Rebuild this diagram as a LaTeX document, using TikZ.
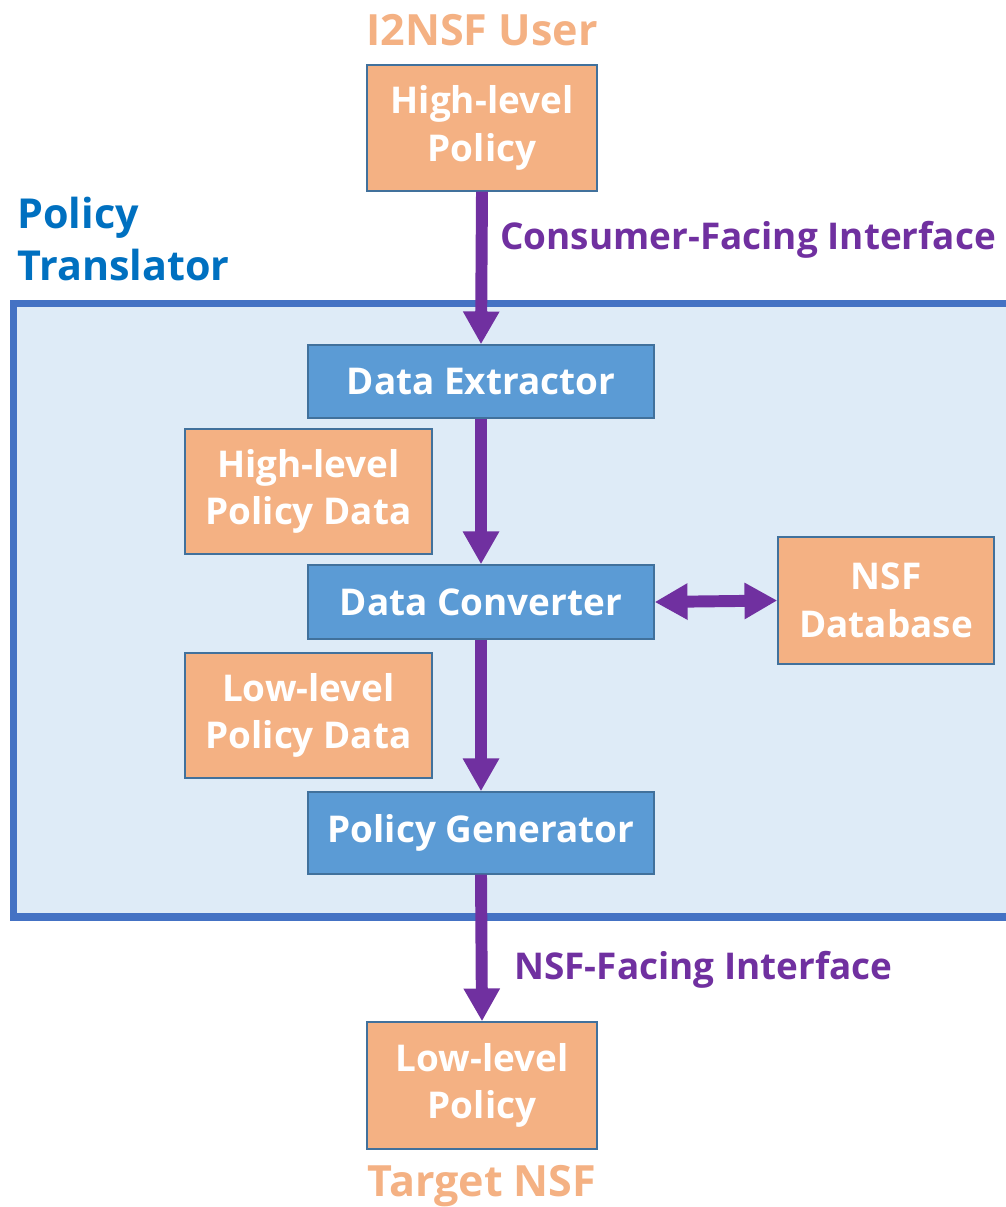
\documentclass[tikz,border=0pt]{standalone}
\usepackage{fontspec}
\setmainfont{Open Sans}
\usetikzlibrary{arrows.meta}
\definecolor{peach}{HTML}{F4B183}
\definecolor{boxedge}{HTML}{41719C}
\definecolor{stepblue}{HTML}{5B9BD5}
\definecolor{panel}{HTML}{DEEBF7}
\definecolor{paneledge}{HTML}{4472C4}
\definecolor{flow}{HTML}{7030A0}
\definecolor{titleblue}{HTML}{0070C0}
\tikzset{
  policybox/.style={draw=boxedge, line width=0.8pt, fill=peach, text=white,
    font=\fontsize{21}{27}\selectfont\bfseries, align=center, inner sep=0pt},
  stepbox/.style={draw=boxedge, line width=0.8pt, fill=stepblue, text=white,
    font=\fontsize{21}{27}\selectfont\bfseries, align=center, inner sep=0pt,
    minimum width=6.92cm},
  flowarrow/.style={draw=flow, line width=6.8pt,
    -{Triangle[length=18.7pt,width=19.5pt]}},
  biarrow/.style={draw=flow, line width=6.8pt,
    {Triangle[length=18.7pt,width=19.5pt]}-{Triangle[length=18.7pt,width=19.5pt]}},
  endlabel/.style={text=peach, font=\fontsize{24.5}{30}\selectfont\bfseries, inner sep=0pt},
  iflabel/.style={text=flow, font=\fontsize{21}{26}\selectfont\bfseries, inner sep=0pt, anchor=west},
}
\begin{document}
\begin{tikzpicture}[x=0.02cm, y=-0.02cm]
\useasboundingbox (0,0) rectangle (1006,1207);

% translator panel, running off the right edge
\begin{scope}
  \clip (0,0) rectangle (1006,1207);
  \draw[draw=paneledge, fill=panel, line width=4pt] (13.5,303.5) rectangle (1030,917);
\end{scope}

\node[anchor=north west, text=titleblue, align=left, inner sep=0pt,
  font=\fontsize{23.5}{29.5}\selectfont\bfseries] (pt) at (17,197) {Policy\\Translator};

% endpoints
\node[endlabel] (user) at (482,30) {I2NSF User};
\node[policybox, minimum width=4.6cm, minimum height=2.52cm] (hlp) at (482,128) {High-level\\Policy};
\node[policybox, minimum width=4.6cm, minimum height=2.54cm] (llp) at (482,1085.5) {Low-level\\Policy};
\node[endlabel] (target) at (482,1186) {Target NSF};

% translator stages
\node[stepbox, minimum height=1.46cm] (dext) at (481,381.5) {Data Extractor};
\node[stepbox, minimum height=1.48cm] (dconv) at (481,602) {Data Converter};
\node[stepbox, minimum height=1.64cm] (pgen) at (481,833) {Policy Generator};

% intermediate data
\node[policybox, minimum width=4.94cm, minimum height=2.5cm] (hlpd) at (308.5,491.5) {High-level\\Policy Data};
\node[policybox, minimum width=4.94cm, minimum height=2.5cm] (llpd) at (308.5,715.5) {Low-level\\Policy Data};
\node[policybox, minimum width=4.32cm, minimum height=2.54cm] (nsfdb) at (886,600.5) {NSF\\Database};

% interfaces
\node[iflabel] (cfi) at (500,240) {Consumer-Facing Interface};
\node[iflabel] (nfi) at (514,970) {NSF-Facing Interface};

% flow
\draw[flowarrow] (hlp.south) -- (dext.north);
\draw[flowarrow] (dext.south) -- (dconv.north);
\draw[flowarrow] (dconv.south) -- (pgen.north);
\draw[flowarrow] (pgen.south) -- (llp.north);
\draw[biarrow] (dconv.east) -- (nsfdb.west);
\end{tikzpicture}
\end{document}
